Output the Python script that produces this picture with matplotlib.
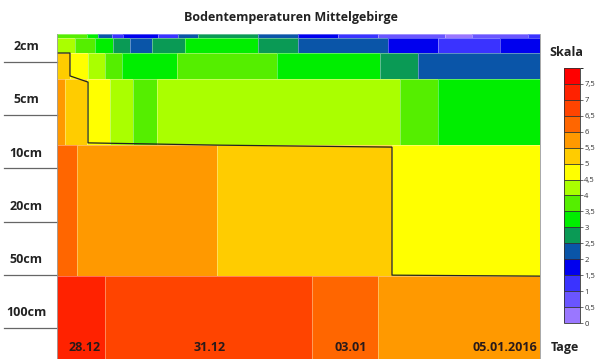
"""Bodentemperaturen Mittelgebirge - soil temperature by depth over time."""

import matplotlib

matplotlib.use("Agg")
import matplotlib.pyplot as plt
import numpy as np
from matplotlib.colors import BoundaryNorm, ListedColormap
from matplotlib.colorbar import ColorbarBase

# colour scale, 0 .. 8 degC in 0.5 steps
levels = np.arange(0, 8.5, 0.5)
level_colors = [
    "#9a77ff", "#6a55ff", "#3a33ff", "#0000ee", "#0a55a8", "#0a9a55",
    "#00ee00", "#55ee00", "#aaff00", "#ffff00", "#ffcc00", "#ff9900",
    "#ff6600", "#ff4400", "#ff2200", "#ff0000",
]
scale_ticks = np.arange(0, 8.0, 0.5)
scale_labels = ["0", "0,5", "1", "1,5", "2", "2,5", "3", "3,5",
                "4", "4,5", "5", "5,5", "6", "6,5", "7", "7,5"]

# depth bands (vertical extent, 0 = surface, 100 = bottom of chart)
band_top = [0.0, 1.38, 5.85, 13.85, 34.15, 74.46]
band_bottom = [1.38, 5.85, 13.85, 34.15, 74.46, 100.0]

# time breakpoints (0..100 over the period) and temperatures per band
t1_edges = [0, 6.21, 8.49, 11.39, 13.66, 20.91, 25.05, 29.19, 41.61, 49.90,
            58.18, 66.46, 80.33, 85.92, 97.52, 100]
t1_temps = [3.75, 3.25, 2.25, 1.25, 1.75, 1.25, 2.25, 2.75, 2.25, 1.75,
            1.25, 0.75, 0.25, 0.75, 1.25]

t2_edges = [0, 3.73, 7.87, 11.59, 15.11, 19.67, 26.50, 41.61, 49.90, 68.53,
            78.88, 91.72, 100]
t2_temps = [4.25, 3.75, 3.25, 2.75, 2.25, 2.75, 3.25, 2.75, 2.25, 1.75, 1.25, 1.75]

m1_edges = [0, 2.69, 6.42, 9.94, 13.46, 24.84, 45.55, 66.87, 74.74, 100]
m1_temps = [5.25, 4.75, 4.25, 3.75, 3.25, 3.75, 3.25, 2.75, 2.25]

m2_edges = [0, 1.66, 6.21, 10.97, 15.73, 20.70, 71.01, 78.88, 100]
m2_temps = [5.75, 5.25, 4.75, 4.25, 3.75, 4.25, 3.75, 3.25]

deep_edges = [0, 4.14, 33.13, 69.36, 100]
deep_temps = [6.25, 5.75, 5.25, 4.75]

bottom_edges = [0, 9.94, 52.80, 66.46, 100]
bottom_temps = [7.25, 6.75, 6.25, 5.75]

# 5 degC boundary line
iso_x = [0, 2.69, 2.69, 6.42, 6.42, 33.5, 69.36, 69.36, 100]
iso_y = [5.85, 5.85, 12.9, 14.8, 33.5, 34.2, 34.8, 74.2, 74.5]

depth_labels = ["2cm", "5cm", "10cm", "20cm", "50cm", "100cm"]
depth_marks = [8.52, 24.92, 41.32, 57.72, 74.12, 90.52]

day_labels = ["28.12", "31.12", "03.01", "05.01.2016"]
day_pos = [5.80, 31.68, 60.87, 92.75]


def main() -> None:
    plt.rcParams["font.family"] = ["Open Sans", "DejaVu Sans"]
    cmap = ListedColormap(level_colors)
    norm = BoundaryNorm(levels, cmap.N)

    fig = plt.figure(figsize=(6.0, 3.59), dpi=100)
    ax = fig.add_axes([57 / 600, 0.0, 483 / 600, 325 / 359])

    bands = [
        (t1_edges, t1_temps), (t2_edges, t2_temps), (m1_edges, m1_temps),
        (m2_edges, m2_temps), (deep_edges, deep_temps), (bottom_edges, bottom_temps),
    ]
    for (edges, temps), y0, y1 in zip(bands, band_top, band_bottom):
        ax.pcolormesh(edges, [y0, y1], np.array([temps]), cmap=cmap, norm=norm,
                      edgecolors=(1, 1, 1, 0.35), linewidth=0.5)

    ax.plot(iso_x, iso_y, color="#222222", linewidth=0.9)

    ax.set_xlim(0, 100)
    ax.set_ylim(100, 0)
    ax.set_xticks([])
    ax.set_yticks([])
    for spine in ax.spines.values():
        spine.set_color("#9a9a9a")
        spine.set_linewidth(0.6)
    ax.spines["top"].set_visible(False)

    # depth labels with marker lines on the left
    for label, y in zip(depth_labels, depth_marks):
        ax.plot([-0.11, 0.0], [y, y], color="#666666", linewidth=0.9,
                transform=ax.get_yaxis_transform(), clip_on=False)
        ax.annotate(label, xy=(-0.064, y), xycoords=("axes fraction", "data"),
                    xytext=(0, 11), textcoords="offset points",
                    ha="center", va="center", fontsize=9, fontweight="bold",
                    color="#222222")

    # day labels inside the plot
    for label, x in zip(day_labels, day_pos):
        ax.text(x, 96.6, label, ha="center", va="center", fontsize=9,
                fontweight="bold", color="#2a1a1a")
    ax.text(1.052, 96.6, "Tage", transform=ax.get_yaxis_transform(),
            ha="center", va="center", fontsize=9, fontweight="bold",
            color="#222222", clip_on=False)

    fig.text(291 / 600, 1 - 18 / 359, "Bodentemperaturen Mittelgebirge",
             ha="center", va="center", fontsize=9, fontweight="bold",
             color="#222222")

    # colour scale
    cax = fig.add_axes([564 / 600, 1 - 323 / 359, 16 / 600, 255 / 359])
    cb = ColorbarBase(cax, cmap=cmap, norm=norm, boundaries=levels,
                      ticks=scale_ticks, drawedges=True)
    cb.dividers.set_color("#333333")
    cb.dividers.set_linewidth(0.6)
    cb.outline.set_edgecolor("#333333")
    cb.outline.set_linewidth(0.6)
    cb.ax.set_yticklabels(scale_labels)
    cb.ax.tick_params(labelsize=5.5, length=2, width=0.5, pad=1, colors="#333333")
    fig.text(566 / 600, 1 - 52 / 359, "Skala", ha="center", va="center",
             fontsize=9, fontweight="bold", color="#222222")

    fig.savefig("out.png", dpi=100)
    plt.close(fig)


if __name__ == "__main__":
    main()
